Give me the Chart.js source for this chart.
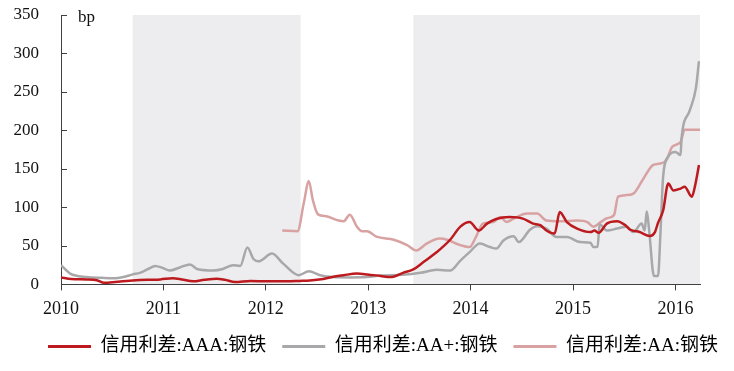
<!DOCTYPE html>
<html>
<head>
<meta charset="utf-8">
<script src="https://cdn.jsdelivr.net/npm/chart.js@4.4.1/dist/chart.umd.min.js"></script>
<style>
  html, body { margin: 0; padding: 0; background: #fff; }
</style>
</head>
<body>
<canvas id="spreadChart" width="734" height="371"></canvas>
<script>
// shaded periods (decimal years)
const shadeStarts = [2010.70, 2013.44];
const shadeEnds = [2012.34, 2016.24];

const yTicks = [0, 50, 100, 150, 200, 250, 300, 350];
const xTicks = [2010, 2011, 2012, 2013, 2014, 2015, 2016];

const seriesNames = ["信用利差:AAA:钢铁", "信用利差:AA+:钢铁", "信用利差:AA:钢铁"];

// AAA
const aaaYears = [2010.00, 2010.10, 2010.25, 2010.35, 2010.42, 2010.55, 2010.70, 2010.85, 2010.97, 2011.09,
  2011.18, 2011.29, 2011.40, 2011.52, 2011.60, 2011.70, 2011.85, 2012.01, 2012.20, 2012.33,
  2012.43, 2012.56, 2012.66, 2012.76, 2012.89, 2012.99, 2013.12, 2013.22, 2013.34, 2013.44,
  2013.54, 2013.67, 2013.80, 2013.90, 2013.99, 2014.08, 2014.16, 2014.25, 2014.38, 2014.51,
  2014.61, 2014.68, 2014.74, 2014.82, 2014.87, 2014.94, 2015.04, 2015.17, 2015.21, 2015.25,
  2015.33, 2015.43, 2015.51, 2015.56, 2015.65, 2015.75, 2015.80, 2015.83, 2015.88, 2015.93,
  2015.98, 2016.05, 2016.09, 2016.16, 2016.19, 2016.23];
const aaaValues = [9, 7, 6.5, 5.5, 2, 3.5, 5, 6, 6.5, 8,
  6.5, 4, 6, 7.5, 6, 3, 4.5, 4, 4, 4.5,
  5, 7, 10, 12, 14, 13, 11, 9.5, 15, 19.5,
  29, 42, 58, 75, 81, 70, 79, 85, 87.5, 85.5,
  79, 77, 70, 66, 94, 81, 72.5, 68, 70, 67,
  79, 82, 77, 71, 68, 63, 68, 80, 96, 131,
  122, 124.5, 127, 114, 127, 155];

// AA+
const aapYears = [2010.00, 2010.09, 2010.25, 2010.40, 2010.51, 2010.62, 2010.70, 2010.77, 2010.85, 2010.92,
  2011.00, 2011.06, 2011.16, 2011.26, 2011.33, 2011.49, 2011.58, 2011.68, 2011.75, 2011.82,
  2011.88, 2011.93, 2012.06, 2012.17, 2012.32, 2012.42, 2012.53, 2012.66, 2012.82, 2012.99,
  2013.12, 2013.34, 2013.51, 2013.67, 2013.80, 2013.90, 2013.99, 2014.09, 2014.19, 2014.25,
  2014.32, 2014.42, 2014.47, 2014.58, 2014.65, 2014.74, 2014.84, 2014.94, 2015.07, 2015.17,
  2015.20, 2015.24, 2015.26, 2015.33, 2015.43, 2015.52, 2015.59, 2015.67, 2015.70, 2015.72,
  2015.745, 2015.79, 2015.83, 2015.855, 2015.88, 2015.93, 2016.00, 2016.05, 2016.06, 2016.14,
  2016.20, 2016.23];
const aapValues = [25, 14, 9.5, 8.5, 8, 10, 13, 15, 20, 24,
  21, 18, 22, 26, 20, 18, 20, 25, 24, 48,
  33, 30, 40, 27, 12, 17, 12, 9.5, 9, 9.5,
  11.5, 12.5, 15, 19, 18, 31, 42, 53, 48.5, 46.5,
  57, 62.5, 55, 71, 75.5, 72.5, 61.5, 61.5, 55, 54,
  48.5, 49, 78, 70, 72.5, 75, 68, 79, 70, 95,
  68, 11, 11, 70, 140, 166, 172, 168, 190, 226,
  255, 290];

// AA
const aaYears = [2012.16, 2012.31, 2012.37, 2012.42, 2012.46, 2012.51, 2012.59, 2012.71, 2012.76, 2012.82,
  2012.89, 2012.94, 2012.99, 2013.08, 2013.25, 2013.38, 2013.47, 2013.57, 2013.70, 2013.77,
  2013.90, 2013.99, 2014.05, 2014.12, 2014.22, 2014.29, 2014.35, 2014.42, 2014.55, 2014.65,
  2014.74, 2014.87, 2015.04, 2015.14, 2015.20, 2015.27, 2015.33, 2015.40, 2015.44, 2015.52,
  2015.59, 2015.69, 2015.78, 2015.85, 2015.91, 2015.97, 2016.05, 2016.09, 2016.24];
const aaValues = [70, 69, 105, 134, 109, 91, 88.5, 83, 82, 90.5,
  75, 69, 69, 62, 58, 51, 44, 53, 59.5, 58,
  51, 48.5, 61, 79, 81, 87.5, 81, 85.5, 92, 92,
  83, 82, 83, 81, 75, 81, 86, 90, 114, 116,
  118, 138, 155, 157, 161, 179, 185, 201, 201];

const seriesColors = ["#bc1a1e", "#a8a8aa", "#d9a2a2"];

function toPoints(xs, ys) {
  return xs.map((x, i) => ({ x: x, y: ys[i] }));
}

const backdrop = {
  id: "backdrop",
  afterLayout(chart) {
    // legend in the reference sits a bit right of centre
    const lg = chart.legend;
    if (lg) {
      lg.left += 16;
      lg.right += 16;
    }
  },
  beforeDraw(chart) {
    const { ctx, chartArea, scales } = chart;
    ctx.save();
    ctx.fillStyle = "#ededef";
    shadeStarts.forEach((s, i) => {
      const x1 = scales.x.getPixelForValue(s);
      const x2 = scales.x.getPixelForValue(shadeEnds[i]);
      ctx.fillRect(x1, chartArea.top, x2 - x1, chartArea.bottom - chartArea.top);
    });
    ctx.restore();
  },
  afterDraw(chart) {
    const { ctx, chartArea, scales } = chart;
    ctx.save();
    ctx.strokeStyle = "#404040";
    ctx.lineWidth = 1;
    yTicks.forEach((v) => {
      if (v === 0) return;
      const y = Math.round(scales.y.getPixelForValue(v)) + 0.5;
      ctx.beginPath();
      ctx.moveTo(chartArea.left, y);
      ctx.lineTo(chartArea.left + 6, y);
      ctx.stroke();
    });
    ctx.fillStyle = "#111";
    ctx.font = "17px 'Liberation Serif'";
    ctx.textBaseline = "alphabetic";
    ctx.fillText("bp", chartArea.left + 17, chartArea.top + 7);
    ctx.restore();
  },
};

const ctx = document.getElementById("spreadChart").getContext("2d");
new Chart(ctx, {
  type: "line",
  data: {
    datasets: [
      { label: seriesNames[0], data: toPoints(aaaYears, aaaValues), borderColor: seriesColors[0], backgroundColor: seriesColors[0] },
      { label: seriesNames[1], data: toPoints(aapYears, aapValues), borderColor: seriesColors[1], backgroundColor: seriesColors[1] },
      { label: seriesNames[2], data: toPoints(aaYears, aaValues), borderColor: seriesColors[2], backgroundColor: seriesColors[2] },
    ].map((d) => Object.assign(d, { borderWidth: 2.5, pointRadius: 0, tension: 0.3, cubicInterpolationMode: "monotone", fill: false })),
  },
  options: {
    responsive: false,
    animation: false,
    layout: { padding: { top: 15, right: 0, left: 0, bottom: 5 } },
    plugins: {
      tooltip: { enabled: false },
      legend: {
        position: "bottom",
        labels: {
          boxWidth: 43,
          boxHeight: 3,
          padding: 16,
          color: "#111",
          font: { family: "'Liberation Serif', 'Noto Sans CJK SC'", size: 19 },
          generateLabels(chart) {
            return chart.data.datasets.map((ds, i) => ({
              text: ds.label,
              fillStyle: ds.borderColor,
              strokeStyle: ds.borderColor,
              lineWidth: 0,
              hidden: false,
              datasetIndex: i,
            }));
          },
        },
      },
    },
    scales: {
      x: {
        type: "linear",
        min: xTicks[0],
        max: shadeEnds[1],
        afterBuildTicks(scale) {
          scale.ticks = xTicks.map((v) => ({ value: v }));
        },
        afterFit(scale) {
          scale.paddingRight = 34;
          scale.height = scale.height - 7;
        },
        ticks: {
          callback: (v) => String(v),
          color: "#111",
          padding: 8,
          font: { family: "'Liberation Serif'", size: 18 },
          maxRotation: 0,
        },
        grid: { drawOnChartArea: false, drawTicks: true, tickLength: 6, color: "#404040" },
        border: { color: "#404040" },
      },
      y: {
        min: 0,
        max: 350,
        afterBuildTicks(scale) {
          scale.ticks = yTicks.map((v) => ({ value: v }));
        },
        afterFit(scale) {
          scale.width = 61;
          scale.paddingTop = 0;
          scale.paddingBottom = 0;
        },
        ticks: {
          color: "#111",
          padding: 22,
          font: { family: "'Liberation Serif'", size: 17 },
        },
        grid: { drawOnChartArea: false, drawTicks: false },
        border: { color: "#404040" },
      },
    },
  },
  plugins: [backdrop],
});
</script>
</body>
</html>
